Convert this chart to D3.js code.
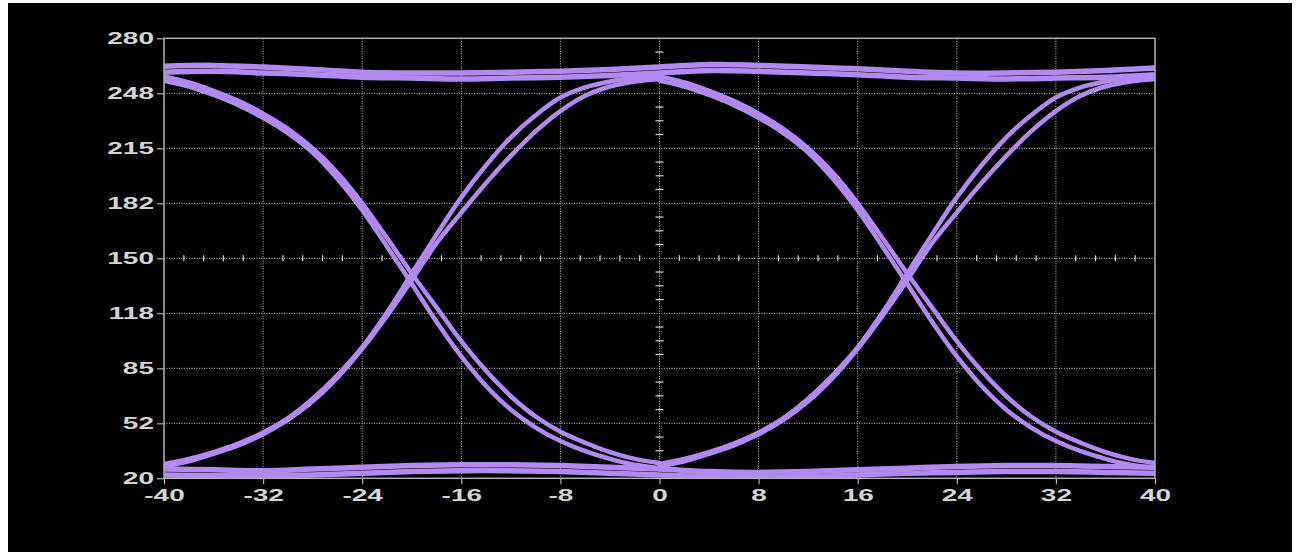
<!DOCTYPE html>
<html>
<head>
<meta charset="utf-8">
<script src="https://cdn.jsdelivr.net/npm/d3@7/dist/d3.min.js"></script>
<style>
  html, body { margin: 0; padding: 0; background: #ffffff; }
  svg { display: block; }
</style>
</head>
<body>
<svg id="eye" width="1300" height="552"></svg>
<script>
// ---- axis ticks -------------------------------------------------------
const xTickValues = [-40, -32, -24, -16, -8, 0, 8, 16, 24, 32, 40];
const xTickLabels = ["-40", "-32", "-24", "-16", "-8", "0", "8", "16", "24", "32", "40"];
const yTickValues = [20, 52.5, 85, 117.5, 150, 182.5, 215, 247.5, 280];
const yTickLabels = ["20", "52", "85", "118", "150", "182", "215", "248", "280"];

// ---- settled levels across both unit intervals (x, level) --------------
const highUpper = [[-40, 263.5], [-36, 264], [-32, 263], [-28, 261.5], [-24, 260], [-20, 259.5],
  [-16, 259.5], [-12, 260], [-8, 260.5], [-4, 261.5], [0, 263], [4, 264.5], [8, 264], [12, 263],
  [16, 262], [20, 260.5], [24, 259.5], [28, 259.5], [32, 260], [36, 261], [40, 262.5]];
const highLower = [[-40, 260], [-36, 260.5], [-32, 259.5], [-28, 258.5], [-24, 257], [-20, 256.5],
  [-16, 256], [-12, 256.5], [-8, 257], [-4, 258], [0, 259.5], [4, 261], [8, 260.5], [12, 259.5],
  [16, 258.5], [20, 257], [24, 256.5], [28, 256], [32, 256.5], [36, 257], [40, 258.5]];
const lowUpper = [[-40, 25.5], [-36, 25], [-32, 24.5], [-28, 25.5], [-24, 26.5], [-20, 27.5],
  [-16, 28], [-12, 28], [-8, 27.5], [-4, 26.5], [0, 25.5], [4, 24], [8, 23.5], [12, 24],
  [16, 25], [20, 26], [24, 27], [28, 27.5], [32, 27.5], [36, 27], [40, 26.5]];
const lowLower = [[-40, 22], [-36, 21.5], [-32, 21.5], [-28, 22], [-24, 23], [-20, 24],
  [-16, 24.5], [-12, 24.5], [-8, 24], [-4, 23], [0, 22], [4, 21], [8, 20.5], [12, 21],
  [16, 22], [20, 23], [24, 23.5], [28, 24], [32, 24], [36, 23.5], [40, 23]];

// ---- edges within one unit interval (time from interval start, level) ----
const unitStarts = [-40, 0];
const riseEarly = [[0, 28.5], [2, 31.5], [4, 35.5], [6, 40.5], [8, 47], [10, 55.5], [12, 67],
  [14, 81], [16, 97.5], [18, 118], [20, 141], [22, 164], [24, 186], [26, 205], [28, 221.5],
  [30, 234.5], [32, 245], [34, 251], [36, 254.5], [38, 256.5], [40, 258]];
const riseLate = [[0, 27], [2, 30], [4, 34.5], [6, 39.5], [8, 46], [10, 54.5], [12, 65.5],
  [14, 79.5], [16, 96.5], [18, 116], [20, 137], [22, 159], [24, 177], [26, 194.5], [28, 210.5],
  [30, 225], [32, 237], [34, 246], [36, 251.5], [38, 254.5], [40, 256]];
const fallEarly = [[0, 255], [2, 251.5], [4, 246.5], [6, 240.5], [8, 233], [10, 224], [12, 212.5],
  [14, 197], [16, 178.5], [18, 157], [20, 135], [22, 112.5], [24, 92], [26, 74.5], [28, 60.5],
  [30, 50], [32, 42], [34, 36], [36, 31.5], [38, 28], [40, 26]];
const fallLate = [[0, 257.5], [2, 254], [4, 249], [6, 243], [8, 235.5], [10, 226.5], [12, 215],
  [14, 200.5], [16, 182.5], [18, 162], [20, 141], [22, 121], [24, 101], [26, 83.5], [28, 68.5],
  [30, 56.5], [32, 47.5], [34, 41], [36, 35.5], [38, 31.5], [40, 29]];

// ---- layout ------------------------------------------------------------
const svg = d3.select("#eye");
const panel = { left: 8, top: 3, right: 1292, bottom: 552 };
const plot = { left: 164, right: 1155, top: 38.3, bottom: 478.3 };
const traceColor = "#b08af0";
const gridColor = "#cfcfcf";
const textColor = "#d4d4d4";
const fontSize = 16;
const labelStretch = 1.75;

svg.append("rect")
  .attr("x", panel.left).attr("y", panel.top)
  .attr("width", panel.right - panel.left).attr("height", panel.bottom - panel.top)
  .attr("fill", "#000");

const x = d3.scaleLinear().domain([-40, 40]).range([plot.left, plot.right]);
const y = d3.scaleLinear().domain([20, 280]).range([plot.bottom, plot.top]);

// dotted grid
const grid = svg.append("g").attr("class", "grid");
grid.selectAll("line.gx").data(xTickValues.slice(1, -1)).join("line")
  .attr("x1", d => x(d)).attr("x2", d => x(d))
  .attr("y1", plot.top).attr("y2", plot.bottom)
  .attr("stroke", gridColor).attr("stroke-width", 1).attr("stroke-dasharray", "1,1.5");
grid.selectAll("line.gy").data(yTickValues.slice(1, -1)).join("line")
  .attr("y1", d => y(d)).attr("y2", d => y(d))
  .attr("x1", plot.left).attr("x2", plot.right)
  .attr("stroke", gridColor).attr("stroke-width", 1).attr("stroke-dasharray", "1,1.5");

// minor ticks along the centre cross-hair
const minorX = d3.range(-40, 40.001, 1.6).filter(v => Math.abs(v / 8 - Math.round(v / 8)) > 1e-6);
const minorY = d3.range(20, 280.001, 32.5 / 4).filter(v => Math.abs((v - 20) / 32.5 - Math.round((v - 20) / 32.5)) > 1e-6);
grid.selectAll("line.mx").data(minorX).join("line")
  .attr("x1", d => x(d)).attr("x2", d => x(d))
  .attr("y1", y(150) - 3).attr("y2", y(150) + 3)
  .attr("stroke", "#d8d8d8").attr("stroke-width", 1.2);
grid.selectAll("line.my").data(minorY).join("line")
  .attr("y1", d => y(d)).attr("y2", d => y(d))
  .attr("x1", x(0) - 4).attr("x2", x(0) + 4)
  .attr("stroke", "#d8d8d8").attr("stroke-width", 1.2);

// traces
svg.append("clipPath").attr("id", "plotClip")
  .append("rect")
  .attr("x", plot.left).attr("y", plot.top)
  .attr("width", plot.right - plot.left).attr("height", plot.bottom - plot.top);

const traces = svg.append("g").attr("clip-path", "url(#plotClip)");
const smooth = d3.curveCatmullRom.alpha(0.5);

const levelLine = d3.line().curve(smooth).x(d => x(d[0])).y(d => y(d[1]));
[highUpper, highLower, lowUpper, lowLower].forEach(series => {
  traces.append("path")
    .attr("d", levelLine(series))
    .attr("fill", "none").attr("stroke", traceColor).attr("stroke-width", 5.5);
});

unitStarts.forEach(start => {
  const edgeLine = d3.line().curve(smooth)
    .x(d => x(start + d[0])).y(d => y(d[1]));
  [riseEarly, riseLate, fallEarly, fallLate].forEach(series => {
    traces.append("path")
      .attr("d", edgeLine(series))
      .attr("fill", "none").attr("stroke", traceColor).attr("stroke-width", 4.5)
      .attr("stroke-linecap", "round");
  });
});

// frame
svg.append("rect")
  .attr("x", plot.left).attr("y", plot.top)
  .attr("width", plot.right - plot.left).attr("height", plot.bottom - plot.top)
  .attr("fill", "none").attr("stroke", "#b0b0b0").attr("stroke-width", 1.5);

// axes
const xAxis = d3.axisBottom(x).tickValues(xTickValues)
  .tickFormat((d, i) => xTickLabels[i]).tickSize(6).tickPadding(4);
const yAxis = d3.axisLeft(y).tickValues(yTickValues)
  .tickFormat((d, i) => yTickLabels[i]).tickSize(7).tickPadding(3);

const gx = svg.append("g").attr("transform", `translate(0,${plot.bottom})`).call(xAxis);
const gy = svg.append("g").attr("transform", `translate(${plot.left},0)`).call(yAxis);

[gx, gy].forEach(g => {
  g.select(".domain").remove();
  g.selectAll(".tick line").attr("stroke", "#b0b0b0").attr("stroke-width", 1.2);
  g.selectAll(".tick text")
    .attr("fill", textColor)
    .style("font-family", "'Liberation Sans', Arial, sans-serif")
    .style("font-weight", "bold")
    .style("font-size", fontSize + "px");
});
gx.selectAll(".tick text").attr("y", 11.5).attr("dy", "0.71em")
  .attr("transform", `scale(${labelStretch},1)`);
gy.selectAll(".tick text").attr("x", -10 / labelStretch).attr("dy", "0.3em")
  .attr("transform", `scale(${labelStretch},1)`);
</script>
</body>
</html>
